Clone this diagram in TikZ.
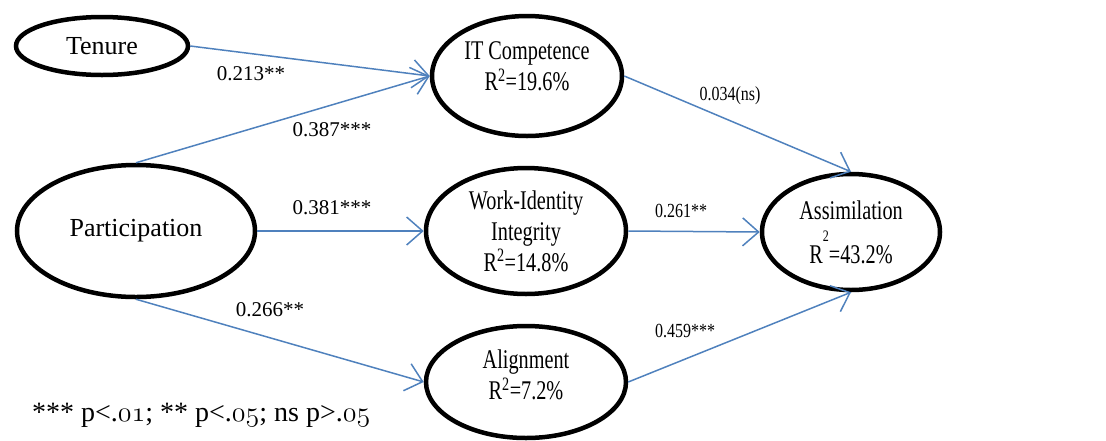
\RequirePackage{fix-cm}
\documentclass[tikz,border=0pt]{standalone}
\usepackage{fontspec}
\setmainfont{Liberation Serif}
\newfontfamily\cond{Liberation Serif}[FakeStretch=0.75]
\newfontfamily\condc{Liberation Serif}[FakeStretch=0.8]
\usetikzlibrary{shapes.geometric,arrows.meta}
\definecolor{pathblue}{HTML}{4F81BD}
\newcommand\osn[1]{$\mathnormal{#1}$}
\tikzset{
  var/.style={ellipse,draw,line width=4.5pt,inner sep=0pt,align=center},
  big/.style={var,font=\fontsize{26}{30}\selectfont},
  mid/.style={var,font=\cond\fontsize{27}{31}\selectfont},
  link/.style={draw=pathblue,line width=1.5pt,-{Straight Barb[length=16pt,width=28pt]}},
  coef/.style={font=\fontsize{21}{24}\selectfont},
  coefc/.style={font=\condc\fontsize{20}{22}\selectfont},
}

\begin{document}
\begin{tikzpicture}[x=1pt,y=-1pt]
\useasboundingbox (0,0) rectangle (1106,440);
\node[big,minimum width=172pt,minimum height=58pt] (ten) at (102,46) {Tenure};
\node[big,minimum width=238pt,minimum height=132pt] (par) at (136,231) {Participation};
\node[mid,minimum width=190pt,minimum height=120pt] (itc) at (527,76) {IT Competence\\R\textsuperscript{2}=19.6\%\\[-12pt]\mbox{}};
\node[mid,minimum width=200pt,minimum height=126pt] (wii) at (526,231) {Work-Identity\\Integrity\\R\textsuperscript{2}=14.8\%};
\node[mid,minimum width=200pt,minimum height=112pt] (ali) at (526,382) {Alignment\\R\textsuperscript{2}=7.2\%\\[-17pt]\mbox{}};
\node[mid,minimum width=178pt,minimum height=116pt] (ass) at (851,232) {Assimilation\\[10pt]R\raisebox{22pt}{\fontsize{16}{16}\selectfont 2}=43.2\%};

\draw[link] (ten.east) -- (itc.west);
\draw[link] (par.north) -- (itc.west);
\draw[link] (par.east) -- (wii.west);
\draw[link] (par.south) -- (ali.west);
\draw[link] (itc.east) -- (ass.north);
\draw[link] (wii.east) -- (ass.west);
\draw[link] (ali.east) -- (ass.south);

\node[coef] (c1) at (251,74) {0.213**};
\node[coef] (c2) at (332,130) {0.387***};
\node[coef] (c3) at (332,208) {0.381***};
\node[coef] (c4) at (270,310) {0.266**};
\node[coefc] (c5) at (730,96) {0.034(ns)};
\node[coefc] (c6) at (681,211) {0.261**};
\node[coefc] (c7) at (685,331) {0.459***};

\node[anchor=west,inner sep=0pt,font=\fontsize{28}{32}\selectfont] (key) at (32,415) {*** p<.\osn{01}; ** p<.\osn{05}; ns p>.\osn{05}};
\end{tikzpicture}
\end{document}
